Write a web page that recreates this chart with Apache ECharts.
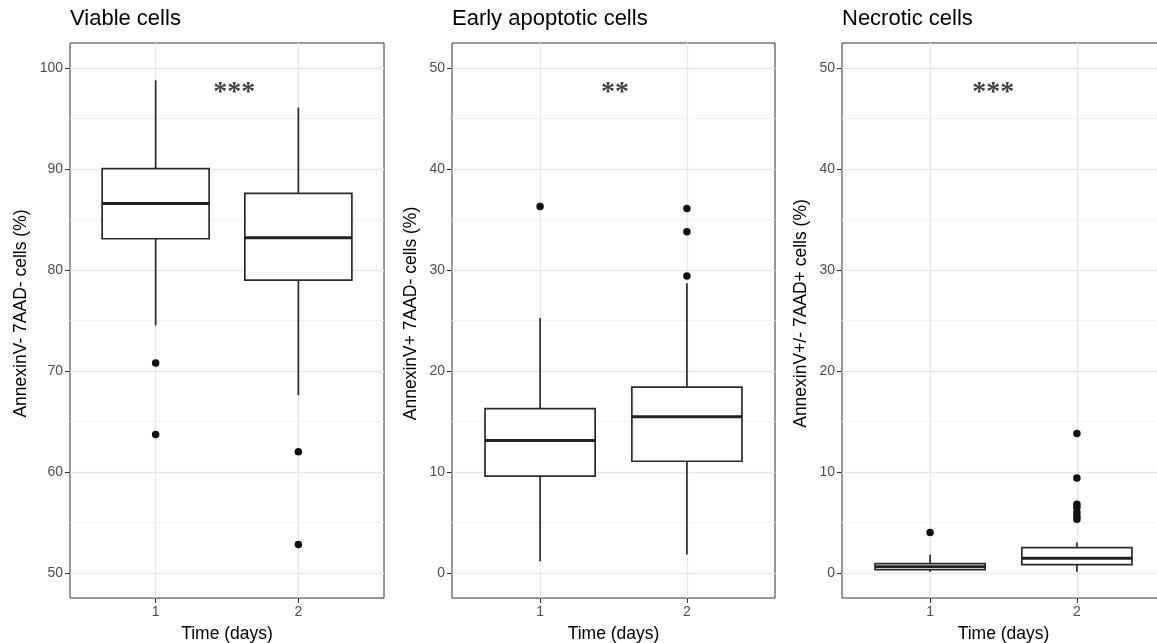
<!DOCTYPE html>
<html>
<head>
<meta charset="utf-8">
<script src="https://cdn.jsdelivr.net/npm/echarts@6/dist/echarts.min.js"></script>
<style>
  html, body { margin: 0; padding: 0; background: #fff; }
  #chart { width: 1157px; height: 643px; }
</style>
</head>
<body>
<div id="chart"></div>
<script>
// data
var days = [1, 2];
var panelTitles = ['Viable cells', 'Early apoptotic cells', 'Necrotic cells'];
var yTitles = ['AnnexinV- 7AAD- cells (%)', 'AnnexinV+ 7AAD- cells (%)', 'AnnexinV+/- 7AAD+ cells (%)'];

// [lower whisker, Q1, median, Q3, upper whisker] per day
var viableStats = [[74.5, 83.1, 86.6, 90.05, 98.8], [67.6, 79.0, 83.2, 87.6, 96.1]];
var viableOutliers = [[70.8, 63.7], [62.0, 52.8]];
var earlyStats = [[1.15, 9.57, 13.1, 16.27, 25.25], [1.8, 11.05, 15.45, 18.4, 28.7]];
var earlyOutliers = [[36.3], [36.1, 33.8, 29.4]];
var necroStats = [[0.07, 0.3, 0.6, 0.9, 1.8], [0.1, 0.8, 1.45, 2.5, 3.0]];
var necroOutliers = [[4.0], [13.8, 9.4, 6.8, 6.5, 6.0, 5.6, 5.3]];

var signif = ['***', '**', '***'];
var signifX = [1.55, 1.51, 1.43];
var signifY = [97.6, 47.6, 47.6];

var viableTicks = [50, 60, 70, 80, 90, 100];
var viableMinor = [55, 65, 75, 85, 95];
var pctTicks = [0, 10, 20, 30, 40, 50];
var pctMinor = [5, 15, 25, 35, 45];
var xTicks = [1, 2];

var chart = echarts.init(document.getElementById('chart'), null, { renderer: 'canvas' });

var FONT = 'Liberation Sans';
var stats = [viableStats, earlyStats, necroStats];
var outliers = [viableOutliers, earlyOutliers, necroOutliers];
var yRange = [[47.5, 102.5], [-2.5, 52.5], [-2.5, 52.5]];
var majors = [viableTicks, pctTicks, pctTicks];
var minors = [viableMinor, pctMinor, pctMinor];
var gridLeft = [70, 452, 842];
var gridWidth = [314, 323, 323];
var nameGaps = [40, 32, 32];
var BOX_W = 0.75; // in x units, like ggplot

var grids = [], xAxes = [], yAxes = [], series = [], titles = [];

for (var i = 0; i < 3; i++) {
  grids.push({
    left: gridLeft[i], top: 43, width: gridWidth[i], height: 555,
    outerBoundsMode: 'none', containLabel: false,
    show: true, backgroundColor: '#fff', borderColor: '#333', borderWidth: 1
  });
  titles.push({
    text: panelTitles[i], left: gridLeft[i], top: 8, padding: 0,
    textStyle: { fontFamily: FONT, fontSize: 22, fontWeight: 'normal', color: '#000' }
  });
  xAxes.push({
    type: 'value', gridIndex: i, min: 0.4, max: 2.6, splitNumber: 2,
    name: 'Time (days)', nameLocation: 'middle', nameGap: 27,
    nameTextStyle: { fontFamily: FONT, fontSize: 17.5, color: '#000' },
    axisLine: { show: false, onZero: false },
    axisTick: { show: true, customValues: xTicks, length: 5, lineStyle: { color: '#333', width: 1 } },
    axisLabel: { customValues: xTicks, margin: 7, fontFamily: FONT, fontSize: 14, color: '#4d4d4d' },
    splitLine: { show: true, lineStyle: { color: '#e8e8e8', width: 1.4 } }
  });
  yAxes.push({
    type: 'value', gridIndex: i, min: yRange[i][0], max: yRange[i][1], splitNumber: 5,
    name: yTitles[i], nameLocation: 'middle', nameGap: nameGaps[i], nameRotate: 90,
    nameTextStyle: { fontFamily: FONT, fontSize: 17.5, color: '#000', padding: [0, 0, 0, 14] },
    axisLine: { show: false, onZero: false },
    axisTick: { show: true, customValues: majors[i], length: 5, lineStyle: { color: '#333', width: 1 } },
    axisLabel: { customValues: majors[i], margin: 7, fontFamily: FONT, fontSize: 14, color: '#4d4d4d' },
    splitLine: { show: true, lineStyle: { color: '#e8e8e8', width: 1.4 } }
  });
}
// minor grid lines
for (var i = 0; i < 3; i++) {
  yAxes.push({
    type: 'value', gridIndex: i, min: yRange[i][0], max: yRange[i][1], position: 'left',
    axisLine: { show: false, onZero: false },
    axisTick: { show: false, customValues: minors[i] },
    axisLabel: { show: false },
    splitLine: { show: true, lineStyle: { color: '#f2f2f2', width: 1 } }
  });
}

function renderBox(params, api) {
  var x = api.value(0);
  var pMin = api.coord([x, api.value(1)]);
  var pQ1 = api.coord([x, api.value(2)]);
  var pMed = api.coord([x, api.value(3)]);
  var pQ3 = api.coord([x, api.value(4)]);
  var pMax = api.coord([x, api.value(5)]);
  var hw = api.size([BOX_W, 0])[0] / 2;
  var cx = pMed[0];
  var stroke = { stroke: '#2b2b2b', lineWidth: 1.7 };
  return {
    type: 'group',
    children: [
      { type: 'line', shape: { x1: cx, y1: pQ3[1], x2: cx, y2: pMax[1] }, style: stroke },
      { type: 'line', shape: { x1: cx, y1: pQ1[1], x2: cx, y2: pMin[1] }, style: stroke },
      {
        type: 'rect',
        shape: { x: cx - hw, y: pQ3[1], width: hw * 2, height: pQ1[1] - pQ3[1] },
        style: { fill: '#fff', stroke: '#2b2b2b', lineWidth: 1.7 }
      },
      { type: 'line', shape: { x1: cx - hw, y1: pMed[1], x2: cx + hw, y2: pMed[1] },
        style: { stroke: '#222', lineWidth: 3 } }
    ]
  };
}

for (var i = 0; i < 3; i++) {
  var boxData = [], outData = [];
  for (var d = 0; d < days.length; d++) {
    boxData.push([days[d]].concat(stats[i][d]));
    outliers[i][d].forEach(function (v) { outData.push([days[d], v]); });
  }
  series.push({
    type: 'custom', xAxisIndex: i, yAxisIndex: i, z: 3,
    renderItem: renderBox,
    encode: { x: 0, y: [1, 2, 3, 4, 5] },
    data: boxData
  });
  series.push({
    type: 'scatter', xAxisIndex: i, yAxisIndex: i, z: 5,
    symbolSize: 7.5, itemStyle: { color: '#111', opacity: 1 },
    data: outData
  });
  series.push({
    type: 'scatter', xAxisIndex: i, yAxisIndex: i, z: 6,
    symbolSize: 1, itemStyle: { color: 'rgba(0,0,0,0)' },
    label: {
      show: true, position: 'inside', formatter: signif[i],
      fontFamily: 'Liberation Serif', fontWeight: 'bold', fontSize: 28, color: '#111'
    },
    data: [[signifX[i], signifY[i]]]
  });
}

chart.setOption({
  backgroundColor: '#fff',
  animation: false,
  title: titles,
  grid: grids,
  xAxis: xAxes,
  yAxis: yAxes,
  series: series
});
</script>
</body>
</html>
